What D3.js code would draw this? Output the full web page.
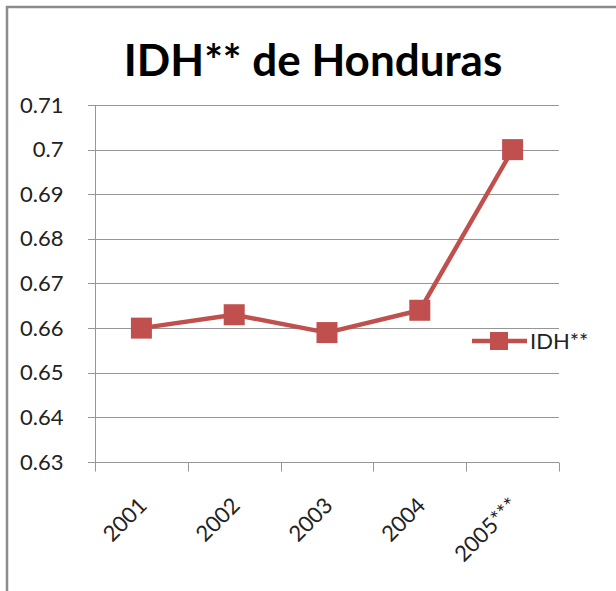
<!DOCTYPE html>
<html>
  <head>
    <meta charset="utf-8">
    <script src="https://d3js.org/d3.v7.min.js"></script>
    <style>
      body { margin: 0; background: #fff; }
      text { font-family: Lato, "Open Sans", sans-serif; fill: #222; }
    </style>
  </head>
<body>
  <script type="text/javascript">
    // chart data
    var years = ["2001", "2002", "2003", "2004", "2005***"];
    var idh = [0.660, 0.663, 0.659, 0.664, 0.700];
    var yTicks = [0.63, 0.64, 0.65, 0.66, 0.67, 0.68, 0.69, 0.7, 0.71];
    var seriesName = "IDH**";
    var chartTitle = "IDH** de Honduras";

    var color = "#C0504D";
    var width = 616, height = 591;
    var plot = {left: 95, right: 559, top: 105, bottom: 462};

    var svg = d3.select("body")
      .append("svg")
        .attr("width", width)
        .attr("height", height);

    // outer chart frame (only top and left edges are in view)
    svg.append("path")
      .attr("d", "M7," + height + "V7H" + width)
      .attr("fill", "none")
      .attr("stroke", "#8c8c8c")
      .attr("stroke-width", 2.5);

    svg.append("text")
      .attr("x", 313)
      .attr("y", 76)
      .attr("text-anchor", "middle")
      .style("font-size", "44px")
      .style("font-weight", "bold")
      .style("fill", "#000")
      .text(chartTitle);

    var x = d3.scaleBand()
      .domain(years)
      .range([plot.left, plot.right]);

    var y = d3.scaleLinear()
      .domain([0.63, 0.71])
      .range([plot.bottom, plot.top]);

    // gridlines
    svg.append("g")
      .selectAll("line")
      .data(yTicks)
      .enter()
      .append("line")
        .attr("x1", plot.left - 7)
        .attr("x2", plot.right)
        .attr("y1", function (d) { return Math.round(y(d)) + 0.5; })
        .attr("y2", function (d) { return Math.round(y(d)) + 0.5; })
        .attr("stroke", "#969696")
        .attr("stroke-width", 1);

    // y axis
    var yAxis = svg.append("g")
      .attr("transform", "translate(" + (plot.left + 0.5) + ",0)")
      .call(d3.axisLeft(y).tickValues(yTicks).tickSize(7).tickPadding(25)
        .tickFormat(function (d) { return String(+d.toFixed(2)); }));
    yAxis.selectAll("line").remove();
    yAxis.select(".domain")
      .attr("d", "M0," + plot.top + "V" + (plot.bottom + 6))
      .attr("stroke", "#969696");
    yAxis.selectAll("text")
      .style("font-size", "22px")
      .style("font-family", "Lato, 'Open Sans', sans-serif")
      .attr("fill", "#222");

    // x axis
    var xAxis = svg.append("g")
      .attr("transform", "translate(0," + (plot.bottom + 0.5) + ")")
      .call(d3.axisBottom(x).tickSize(0).tickFormat(""));
    xAxis.select(".domain")
      .attr("d", "M" + (plot.left - 7) + ",0H" + plot.right)
      .attr("stroke", "#969696");
    xAxis.selectAll(".boundary")
      .data(years.concat(["end"]))
      .enter()
      .append("line")
        .attr("x1", function (d, i) { return Math.round(plot.left + i * x.step()) + 0.5; })
        .attr("x2", function (d, i) { return Math.round(plot.left + i * x.step()) + 0.5; })
        .attr("y1", 0)
        .attr("y2", 9)
        .attr("stroke", "#969696");

    svg.append("g")
      .selectAll("text")
      .data(years)
      .enter()
      .append("text")
        .attr("transform", function (d) {
          return "translate(" + (x(d) + x.bandwidth() / 2 + 7) + ",507) rotate(-45)";
        })
        .attr("text-anchor", "end")
        .style("font-size", "22px")
        .text(function (d) { return d; });

    // series line + markers
    var cx = function (d, i) { return x(years[i]) + x.bandwidth() / 2; };
    var line = d3.line()
      .x(cx)
      .y(function (d) { return y(d); });

    svg.append("path")
      .datum(idh)
      .attr("d", line)
      .attr("fill", "none")
      .attr("stroke", color)
      .attr("stroke-width", 4.5)
      .attr("stroke-linejoin", "round");

    svg.append("g")
      .selectAll("rect")
      .data(idh)
      .enter()
      .append("rect")
        .attr("x", function (d, i) { return cx(d, i) - 10.5; })
        .attr("y", function (d) { return y(d) - 10.5; })
        .attr("width", 21)
        .attr("height", 21)
        .attr("fill", color);

    // legend
    var legend = svg.append("g").attr("transform", "translate(472,341)");
    legend.append("line")
      .attr("x1", 0).attr("x2", 55)
      .attr("stroke", color)
      .attr("stroke-width", 4.5);
    legend.append("rect")
      .attr("x", 18).attr("y", -9)
      .attr("width", 18).attr("height", 18)
      .attr("fill", color);
    legend.append("text")
      .attr("x", 58)
      .attr("y", 8)
      .style("font-size", "22px")
      .text(seriesName);
  </script>
</body>
</html>
